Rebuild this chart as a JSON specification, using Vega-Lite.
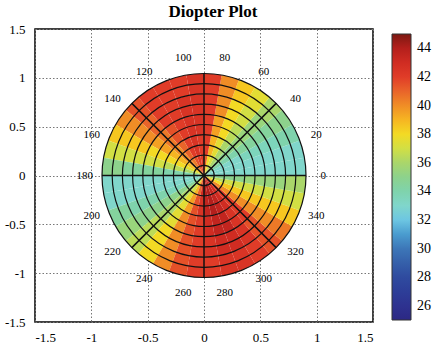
{
  "$schema": "https://vega.github.io/schema/vega-lite/v6.json",
  "autosize": {"type": "none"},
  "padding": {"left": 35, "top": 29, "right": 59, "bottom": 25},
  "width": 338,
  "height": 293,
  "background": "white",
  "title": {"text": "Diopter Plot", "font": "Liberation Serif", "fontSize": 17, "fontWeight": "bold", "color": "black", "frame": "group", "anchor": "middle", "offset": 2, "dx": 9},
  "config": {
    "view": {"stroke": "black", "strokeWidth": 1.5},
    "axis": {"grid": true, "gridDash": [1.5, 2], "gridColor": "#777", "gridOpacity": 1, "gridWidth": 1, "domain": false, "ticks": false, "labelFont": "Liberation Serif", "labelFontSize": 13, "labelColor": "black", "title": null}
  },
  "datasets": {
    "cells": [
      {"a0":0,"a1":10,"r0":0,"r1":2,"v":33},{"a0":0,"a1":10,"r0":2,"r1":4,"v":33},{"a0":0,"a1":10,"r0":4,"r1":6,"v":33},{"a0":0,"a1":10,"r0":6,"r1":8,"v":33},{"a0":0,"a1":10,"r0":8,"r1":10,"v":33},
      {"a0":10,"a1":20,"r0":0,"r1":2,"v":33},{"a0":10,"a1":20,"r0":2,"r1":4,"v":33},{"a0":10,"a1":20,"r0":4,"r1":6,"v":33},{"a0":10,"a1":20,"r0":6,"r1":8,"v":33},{"a0":10,"a1":20,"r0":8,"r1":10,"v":33},
      {"a0":20,"a1":30,"r0":0,"r1":2,"v":33},{"a0":20,"a1":30,"r0":2,"r1":4,"v":33},{"a0":20,"a1":30,"r0":4,"r1":6,"v":33.5},{"a0":20,"a1":30,"r0":6,"r1":8,"v":33.5},{"a0":20,"a1":30,"r0":8,"r1":10,"v":34},
      {"a0":30,"a1":40,"r0":0,"r1":2,"v":34},{"a0":30,"a1":40,"r0":2,"r1":4,"v":34},{"a0":30,"a1":40,"r0":4,"r1":6,"v":34.5},{"a0":30,"a1":40,"r0":6,"r1":8,"v":34.5},{"a0":30,"a1":40,"r0":8,"r1":10,"v":35},
      {"a0":40,"a1":50,"r0":0,"r1":2,"v":35},{"a0":40,"a1":50,"r0":2,"r1":4,"v":35},{"a0":40,"a1":50,"r0":4,"r1":6,"v":35.5},{"a0":40,"a1":50,"r0":6,"r1":8,"v":35.5},{"a0":40,"a1":50,"r0":8,"r1":10,"v":36},
      {"a0":50,"a1":60,"r0":0,"r1":2,"v":36},{"a0":50,"a1":60,"r0":2,"r1":4,"v":36},{"a0":50,"a1":60,"r0":4,"r1":6,"v":36.5},{"a0":50,"a1":60,"r0":6,"r1":8,"v":37},{"a0":50,"a1":60,"r0":8,"r1":10,"v":37.5},
      {"a0":60,"a1":70,"r0":0,"r1":2,"v":37},{"a0":60,"a1":70,"r0":2,"r1":4,"v":37.5},{"a0":60,"a1":70,"r0":4,"r1":6,"v":38},{"a0":60,"a1":70,"r0":6,"r1":8,"v":38},{"a0":60,"a1":70,"r0":8,"r1":10,"v":38.5},
      {"a0":70,"a1":80,"r0":0,"r1":2,"v":38},{"a0":70,"a1":80,"r0":2,"r1":4,"v":39},{"a0":70,"a1":80,"r0":4,"r1":6,"v":39.5},{"a0":70,"a1":80,"r0":6,"r1":8,"v":40},{"a0":70,"a1":80,"r0":8,"r1":10,"v":40},
      {"a0":80,"a1":90,"r0":0,"r1":2,"v":41},{"a0":80,"a1":90,"r0":2,"r1":4,"v":42},{"a0":80,"a1":90,"r0":4,"r1":6,"v":42},{"a0":80,"a1":90,"r0":6,"r1":8,"v":42},{"a0":80,"a1":90,"r0":8,"r1":10,"v":42},
      {"a0":90,"a1":100,"r0":0,"r1":2,"v":42},{"a0":90,"a1":100,"r0":2,"r1":4,"v":42},{"a0":90,"a1":100,"r0":4,"r1":6,"v":42.5},{"a0":90,"a1":100,"r0":6,"r1":8,"v":42.5},{"a0":90,"a1":100,"r0":8,"r1":10,"v":42.5},
      {"a0":100,"a1":110,"r0":0,"r1":2,"v":42},{"a0":100,"a1":110,"r0":2,"r1":4,"v":42.5},{"a0":100,"a1":110,"r0":4,"r1":6,"v":42.5},{"a0":100,"a1":110,"r0":6,"r1":8,"v":42.5},{"a0":100,"a1":110,"r0":8,"r1":10,"v":42},
      {"a0":110,"a1":120,"r0":0,"r1":2,"v":41.5},{"a0":110,"a1":120,"r0":2,"r1":4,"v":42},{"a0":110,"a1":120,"r0":4,"r1":6,"v":42},{"a0":110,"a1":120,"r0":6,"r1":8,"v":42},{"a0":110,"a1":120,"r0":8,"r1":10,"v":42},
      {"a0":120,"a1":130,"r0":0,"r1":2,"v":40.5},{"a0":120,"a1":130,"r0":2,"r1":4,"v":41},{"a0":120,"a1":130,"r0":4,"r1":6,"v":41.5},{"a0":120,"a1":130,"r0":6,"r1":8,"v":42},{"a0":120,"a1":130,"r0":8,"r1":10,"v":42},
      {"a0":130,"a1":140,"r0":0,"r1":2,"v":40},{"a0":130,"a1":140,"r0":2,"r1":4,"v":40},{"a0":130,"a1":140,"r0":4,"r1":6,"v":40.5},{"a0":130,"a1":140,"r0":6,"r1":8,"v":41},{"a0":130,"a1":140,"r0":8,"r1":10,"v":41.5},
      {"a0":140,"a1":150,"r0":0,"r1":2,"v":38.5},{"a0":140,"a1":150,"r0":2,"r1":4,"v":39},{"a0":140,"a1":150,"r0":4,"r1":6,"v":39.5},{"a0":140,"a1":150,"r0":6,"r1":8,"v":40},{"a0":140,"a1":150,"r0":8,"r1":10,"v":40},
      {"a0":150,"a1":160,"r0":0,"r1":2,"v":37.5},{"a0":150,"a1":160,"r0":2,"r1":4,"v":38},{"a0":150,"a1":160,"r0":4,"r1":6,"v":38},{"a0":150,"a1":160,"r0":6,"r1":8,"v":38.5},{"a0":150,"a1":160,"r0":8,"r1":10,"v":38.5},
      {"a0":160,"a1":170,"r0":0,"r1":2,"v":36},{"a0":160,"a1":170,"r0":2,"r1":4,"v":36.5},{"a0":160,"a1":170,"r0":4,"r1":6,"v":37},{"a0":160,"a1":170,"r0":6,"r1":8,"v":37},{"a0":160,"a1":170,"r0":8,"r1":10,"v":37},
      {"a0":170,"a1":180,"r0":0,"r1":2,"v":34},{"a0":170,"a1":180,"r0":2,"r1":4,"v":34},{"a0":170,"a1":180,"r0":4,"r1":6,"v":34.5},{"a0":170,"a1":180,"r0":6,"r1":8,"v":34.5},{"a0":170,"a1":180,"r0":8,"r1":10,"v":35},
      {"a0":180,"a1":190,"r0":0,"r1":2,"v":33},{"a0":180,"a1":190,"r0":2,"r1":4,"v":33},{"a0":180,"a1":190,"r0":4,"r1":6,"v":33},{"a0":180,"a1":190,"r0":6,"r1":8,"v":33},{"a0":180,"a1":190,"r0":8,"r1":10,"v":33},
      {"a0":190,"a1":200,"r0":0,"r1":2,"v":33},{"a0":190,"a1":200,"r0":2,"r1":4,"v":33},{"a0":190,"a1":200,"r0":4,"r1":6,"v":33},{"a0":190,"a1":200,"r0":6,"r1":8,"v":33},{"a0":190,"a1":200,"r0":8,"r1":10,"v":33},
      {"a0":200,"a1":210,"r0":0,"r1":2,"v":33.5},{"a0":200,"a1":210,"r0":2,"r1":4,"v":33.5},{"a0":200,"a1":210,"r0":4,"r1":6,"v":34},{"a0":200,"a1":210,"r0":6,"r1":8,"v":34},{"a0":200,"a1":210,"r0":8,"r1":10,"v":34.5},
      {"a0":210,"a1":220,"r0":0,"r1":2,"v":34.5},{"a0":210,"a1":220,"r0":2,"r1":4,"v":35},{"a0":210,"a1":220,"r0":4,"r1":6,"v":35},{"a0":210,"a1":220,"r0":6,"r1":8,"v":35},{"a0":210,"a1":220,"r0":8,"r1":10,"v":35.5},
      {"a0":220,"a1":230,"r0":0,"r1":2,"v":36},{"a0":220,"a1":230,"r0":2,"r1":4,"v":36},{"a0":220,"a1":230,"r0":4,"r1":6,"v":36},{"a0":220,"a1":230,"r0":6,"r1":8,"v":36.5},{"a0":220,"a1":230,"r0":8,"r1":10,"v":36.5},
      {"a0":230,"a1":240,"r0":0,"r1":2,"v":37},{"a0":230,"a1":240,"r0":2,"r1":4,"v":37.5},{"a0":230,"a1":240,"r0":4,"r1":6,"v":37.5},{"a0":230,"a1":240,"r0":6,"r1":8,"v":38},{"a0":230,"a1":240,"r0":8,"r1":10,"v":38},
      {"a0":240,"a1":250,"r0":0,"r1":2,"v":39},{"a0":240,"a1":250,"r0":2,"r1":4,"v":39.5},{"a0":240,"a1":250,"r0":4,"r1":6,"v":40},{"a0":240,"a1":250,"r0":6,"r1":8,"v":40},{"a0":240,"a1":250,"r0":8,"r1":10,"v":40},
      {"a0":250,"a1":260,"r0":0,"r1":2,"v":41},{"a0":250,"a1":260,"r0":2,"r1":4,"v":41.5},{"a0":250,"a1":260,"r0":4,"r1":6,"v":41.5},{"a0":250,"a1":260,"r0":6,"r1":8,"v":41.5},{"a0":250,"a1":260,"r0":8,"r1":10,"v":41.5},
      {"a0":260,"a1":270,"r0":0,"r1":2,"v":43},{"a0":260,"a1":270,"r0":2,"r1":4,"v":42.5},{"a0":260,"a1":270,"r0":4,"r1":6,"v":42},{"a0":260,"a1":270,"r0":6,"r1":8,"v":42},{"a0":260,"a1":270,"r0":8,"r1":10,"v":42},
      {"a0":270,"a1":280,"r0":0,"r1":2,"v":44},{"a0":270,"a1":280,"r0":2,"r1":4,"v":43.5},{"a0":270,"a1":280,"r0":4,"r1":6,"v":43},{"a0":270,"a1":280,"r0":6,"r1":8,"v":42.5},{"a0":270,"a1":280,"r0":8,"r1":10,"v":42},
      {"a0":280,"a1":290,"r0":0,"r1":2,"v":44},{"a0":280,"a1":290,"r0":2,"r1":4,"v":44},{"a0":280,"a1":290,"r0":4,"r1":6,"v":43.5},{"a0":280,"a1":290,"r0":6,"r1":8,"v":43},{"a0":280,"a1":290,"r0":8,"r1":10,"v":42.5},
      {"a0":290,"a1":300,"r0":0,"r1":2,"v":43.5},{"a0":290,"a1":300,"r0":2,"r1":4,"v":43.5},{"a0":290,"a1":300,"r0":4,"r1":6,"v":43.5},{"a0":290,"a1":300,"r0":6,"r1":8,"v":43},{"a0":290,"a1":300,"r0":8,"r1":10,"v":42.5},
      {"a0":300,"a1":310,"r0":0,"r1":2,"v":43},{"a0":300,"a1":310,"r0":2,"r1":4,"v":43},{"a0":300,"a1":310,"r0":4,"r1":6,"v":42.5},{"a0":300,"a1":310,"r0":6,"r1":8,"v":42.5},{"a0":300,"a1":310,"r0":8,"r1":10,"v":42},
      {"a0":310,"a1":320,"r0":0,"r1":2,"v":42},{"a0":310,"a1":320,"r0":2,"r1":4,"v":42},{"a0":310,"a1":320,"r0":4,"r1":6,"v":42},{"a0":310,"a1":320,"r0":6,"r1":8,"v":41.5},{"a0":310,"a1":320,"r0":8,"r1":10,"v":41.5},
      {"a0":320,"a1":330,"r0":0,"r1":2,"v":40},{"a0":320,"a1":330,"r0":2,"r1":4,"v":40},{"a0":320,"a1":330,"r0":4,"r1":6,"v":40},{"a0":320,"a1":330,"r0":6,"r1":8,"v":40},{"a0":320,"a1":330,"r0":8,"r1":10,"v":40.5},
      {"a0":330,"a1":340,"r0":0,"r1":2,"v":38},{"a0":330,"a1":340,"r0":2,"r1":4,"v":38.5},{"a0":330,"a1":340,"r0":4,"r1":6,"v":38.5},{"a0":330,"a1":340,"r0":6,"r1":8,"v":38.5},{"a0":330,"a1":340,"r0":8,"r1":10,"v":38.5},
      {"a0":340,"a1":350,"r0":0,"r1":2,"v":36.5},{"a0":340,"a1":350,"r0":2,"r1":4,"v":37},{"a0":340,"a1":350,"r0":4,"r1":6,"v":37},{"a0":340,"a1":350,"r0":6,"r1":8,"v":37},{"a0":340,"a1":350,"r0":8,"r1":10,"v":37},
      {"a0":350,"a1":360,"r0":0,"r1":2,"v":35},{"a0":350,"a1":360,"r0":2,"r1":4,"v":35},{"a0":350,"a1":360,"r0":4,"r1":6,"v":35.5},{"a0":350,"a1":360,"r0":6,"r1":8,"v":35.5},{"a0":350,"a1":360,"r0":8,"r1":10,"v":36}
    ],
    "rings": [{"r":1},{"r":2},{"r":3},{"r":4},{"r":5},{"r":6},{"r":7},{"r":8},{"r":9},{"r":10}],
    "spokes": [{"a":0},{"a":45},{"a":90},{"a":135},{"a":180},{"a":225},{"a":270},{"a":315}],
    "labels": [{"a":0},{"a":20},{"a":40},{"a":60},{"a":80},{"a":100},{"a":120},{"a":140},{"a":160},{"a":180},{"a":200},{"a":220},{"a":240},{"a":260},{"a":280},{"a":300},{"a":320},{"a":340}]
  },
  "layer": [
    {
      "data": {"name": "cells"},
      "mark": {"type": "arc"},
      "encoding": {
        "x": {"datum": 0, "type": "quantitative", "scale": {"domain": [-1.5, 1.5], "nice": false, "zero": false}, "axis": {"values": [-1.5, -1, -0.5, 0, 0.5, 1, 1.5], "labelExpr": "'' + datum.value", "labelPadding": 9}},
        "y": {"datum": 0, "type": "quantitative", "scale": {"domain": [-1.5, 1.5], "nice": false, "zero": false}, "axis": {"values": [-1.5, -1, -0.5, 0, 0.5, 1, 1.5], "labelExpr": "'' + datum.value", "labelPadding": 10}},
        "theta": {"field": "a0", "type": "quantitative", "stack": null, "scale": {"domain": [90, -270], "range": [0, 6.283185307179586]}},
        "theta2": {"field": "a1"},
        "radius": {"field": "r0", "type": "quantitative", "stack": null, "scale": {"type": "linear", "domain": [0, 10], "range": [0, 102], "zero": true}},
        "radius2": {"field": "r1"},
        "color": {"field": "v", "type": "quantitative",
          "scale": {"domain": [25,26,27,28,29,30,31,32,33,34,35,36,37,38,39,40,41,42,43,44,45],
                    "range": ["#2c2884","#2e3290","#2d3e98","#2f4b9f","#3560aa","#3d77b8","#4a9ccf","#6dc6e2","#80d6cb","#7fd3ac","#8dd28c","#aad66a","#d2df44","#f3da24","#f6b522","#f08d26","#e9642a","#e03c28","#d02c22","#b41f1c","#7c1812"]},
          "legend": {"type": "gradient", "orient": "none", "legendX": 357, "legendY": 5, "direction": "vertical", "gradientLength": 286, "gradientThickness": 19, "values": [26,28,30,32,34,36,38,40,42,44], "title": null, "labelFont": "Liberation Serif", "labelFontSize": 14, "labelColor": "black", "labelOffset": 6, "gradientStrokeColor": "#333", "gradientStrokeWidth": 1}}
      }
    },
    {
      "data": {"name": "rings"},
      "mark": {"type": "arc", "filled": false, "stroke": "#111", "strokeWidth": 1.2},
      "encoding": {
        "x": {"datum": 0, "type": "quantitative"},
        "y": {"datum": 0, "type": "quantitative"},
        "radius": {"field": "r", "type": "quantitative", "stack": null}
      }
    },
    {
      "data": {"name": "spokes"},
      "mark": {"type": "arc", "filled": false, "stroke": "#111", "strokeWidth": 1.5},
      "encoding": {
        "x": {"datum": 0, "type": "quantitative"},
        "y": {"datum": 0, "type": "quantitative"},
        "theta": {"field": "a", "type": "quantitative", "stack": null},
        "theta2": {"field": "a"},
        "radius": {"datum": 10, "type": "quantitative", "stack": null},
        "strokeDash": {"condition": {"test": "datum.a == 180", "value": [3, 8]}, "value": [1, 0]}
      }
    },
    {
      "data": {"name": "labels"},
      "mark": {"type": "text", "font": "Liberation Serif", "fontSize": 11, "color": "black", "align": "center", "baseline": "middle"},
      "encoding": {
        "x": {"datum": 0, "type": "quantitative"},
        "y": {"datum": 0, "type": "quantitative"},
        "theta": {"field": "a", "type": "quantitative", "stack": null},
        "radius": {"datum": 11.7, "type": "quantitative", "stack": null},
        "text": {"field": "a", "type": "nominal"}
      }
    }
  ]
}
